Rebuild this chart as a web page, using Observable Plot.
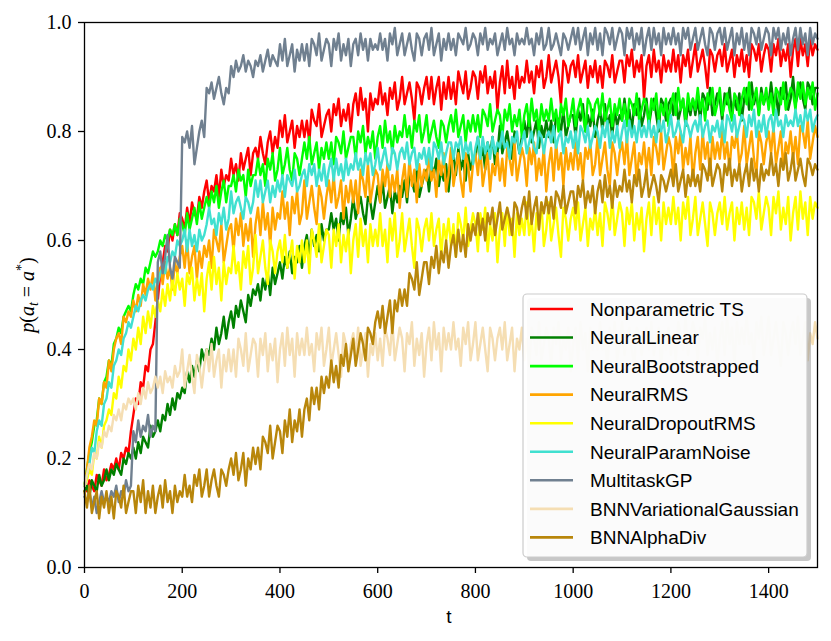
<!DOCTYPE html>
<html><head><meta charset="utf-8">
<script src="https://cdn.jsdelivr.net/npm/d3@7"></script>
<script src="https://cdn.jsdelivr.net/npm/@observablehq/plot@0.6"></script>
<style>body{margin:0;background:#fff}#chart svg{display:block}</style>
</head><body><div id="chart"></div>
<script>
// time steps (every 5 steps from 0 to 1500)
const tSteps = d3.range(0, 1501, 5);
const xTicks = [0, 200, 400, 600, 800, 1000, 1200, 1400];
const yTicks = [0, 0.2, 0.4, 0.6, 0.8, 1.0];

const seriesNames = ["Nonparametric TS","NeuralLinear","NeuralBootstrapped","NeuralRMS","NeuralDropoutRMS","NeuralParamNoise","MultitaskGP","BNNVariationalGaussian","BNNAlphaDiv"];
const seriesColors = ["#ff0000","#008000","#00ff00","#ffa500","#ffff00","#40e0d0","#708090","#f5deb3","#b8860b"];

const nonparametricTS = [
0.15,0.14,0.16,0.15,0.14,0.17,0.16,0.15,0.18,0.16, 0.17,0.19,0.18,0.20,0.18,0.21,0.20,0.22,0.21,0.25,
0.28,0.31,0.30,0.34,0.33,0.37,0.36,0.40,0.41,0.45, 0.49,0.54,0.56,0.59,0.58,0.62,0.60,0.63,0.61,0.65,
0.64,0.62,0.66,0.63,0.67,0.65,0.64,0.68,0.66,0.69, 0.71,0.67,0.70,0.69,0.72,0.68,0.73,0.70,0.72,0.71,
0.75,0.72,0.74,0.71,0.76,0.73,0.75,0.77,0.72,0.76, 0.77,0.75,0.79,0.76,0.74,0.78,0.80,0.76,0.79,0.77,
0.82,0.79,0.83,0.78,0.80,0.82,0.77,0.81,0.79,0.82, 0.79,0.82,0.78,0.84,0.82,0.81,0.85,0.79,0.81,0.83,
0.84,0.80,0.85,0.83,0.86,0.81,0.84,0.82,0.85,0.80, 0.85,0.87,0.83,0.88,0.84,0.86,0.80,0.87,0.84,0.86,
0.85,0.89,0.85,0.87,0.83,0.88,0.86,0.89,0.84,0.86, 0.90,0.85,0.87,0.89,0.86,0.82,0.89,0.88,0.85,0.88,
0.90,0.86,0.90,0.85,0.88,0.90,0.84,0.89,0.86,0.90, 0.86,0.89,0.85,0.91,0.89,0.87,0.91,0.86,0.88,0.91,
0.90,0.86,0.91,0.89,0.92,0.87,0.90,0.88,0.91,0.84, 0.89,0.92,0.87,0.93,0.88,0.90,0.86,0.92,0.88,0.90,
0.89,0.93,0.89,0.91,0.87,0.92,0.90,0.93,0.88,0.90, 0.94,0.89,0.91,0.93,0.90,0.85,0.93,0.92,0.89,0.92,
0.93,0.90,0.94,0.89,0.91,0.93,0.88,0.92,0.90,0.93, 0.89,0.92,0.88,0.93,0.92,0.90,0.94,0.89,0.91,0.93,
0.93,0.89,0.94,0.92,0.95,0.90,0.93,0.91,0.94,0.86, 0.92,0.94,0.90,0.95,0.91,0.93,0.89,0.94,0.91,0.93,
0.91,0.95,0.91,0.94,0.89,0.94,0.92,0.95,0.90,0.93, 0.96,0.91,0.93,0.95,0.92,0.88,0.95,0.94,0.91,0.94,
0.95,0.92,0.96,0.91,0.93,0.95,0.90,0.94,0.92,0.95, 0.91,0.94,0.90,0.96,0.95,0.93,0.96,0.91,0.94,0.96,
0.95,0.91,0.96,0.94,0.97,0.92,0.95,0.93,0.96,0.90, 0.95,0.97,0.92,0.97,0.94,0.96,0.92,0.97,0.94,0.96,
0.95];

const neuralLinear = [
0.14,0.15,0.13,0.16,0.15,0.14,0.17,0.15,0.16,0.18, 0.16,0.18,0.17,0.19,0.18,0.17,0.20,0.19,0.21,0.20,
0.22,0.20,0.23,0.21,0.24,0.23,0.22,0.26,0.24,0.25, 0.27,0.25,0.28,0.27,0.30,0.28,0.31,0.29,0.32,0.31,
0.33,0.32,0.36,0.34,0.37,0.35,0.38,0.36,0.40,0.38, 0.40,0.39,0.42,0.40,0.44,0.41,0.43,0.46,0.42,0.45,
0.47,0.44,0.48,0.46,0.49,0.47,0.45,0.50,0.48,0.51, 0.50,0.52,0.49,0.53,0.51,0.54,0.50,0.55,0.52,0.54,
0.56,0.53,0.57,0.55,0.58,0.54,0.57,0.56,0.59,0.55, 0.59,0.61,0.57,0.62,0.59,0.61,0.58,0.63,0.60,0.62,
0.62,0.65,0.62,0.64,0.60,0.65,0.63,0.66,0.61,0.64, 0.68,0.64,0.66,0.68,0.65,0.63,0.68,0.67,0.64,0.67,
0.70,0.67,0.71,0.66,0.68,0.70,0.65,0.69,0.67,0.70, 0.68,0.71,0.67,0.72,0.71,0.69,0.73,0.68,0.70,0.72,
0.73,0.69,0.74,0.72,0.75,0.70,0.73,0.71,0.74,0.69, 0.74,0.76,0.72,0.77,0.73,0.75,0.71,0.76,0.73,0.75,
0.75,0.79,0.75,0.77,0.73,0.78,0.76,0.79,0.74,0.76, 0.81,0.76,0.78,0.80,0.77,0.75,0.80,0.79,0.76,0.79,
0.82,0.79,0.83,0.78,0.80,0.82,0.77,0.81,0.79,0.82, 0.79,0.82,0.78,0.83,0.82,0.80,0.84,0.79,0.81,0.83,
0.83,0.79,0.84,0.82,0.85,0.80,0.83,0.81,0.84,0.79, 0.82,0.84,0.80,0.85,0.81,0.83,0.79,0.84,0.81,0.83,
0.82,0.86,0.82,0.84,0.80,0.85,0.83,0.86,0.81,0.83, 0.86,0.81,0.84,0.86,0.83,0.80,0.86,0.85,0.82,0.85,
0.86,0.83,0.87,0.82,0.84,0.86,0.81,0.85,0.83,0.86, 0.83,0.86,0.82,0.87,0.86,0.84,0.88,0.83,0.85,0.87,
0.86,0.82,0.87,0.85,0.88,0.83,0.86,0.84,0.87,0.82, 0.86,0.88,0.84,0.89,0.85,0.87,0.83,0.88,0.85,0.87,
0.85,0.89,0.85,0.87,0.83,0.88,0.86,0.89,0.84,0.86, 0.90,0.85,0.87,0.89,0.86,0.84,0.89,0.88,0.85,0.88,
0.88];

const neuralBootstrapped = [
0.15,0.18,0.21,0.23,0.26,0.27,0.31,0.30,0.34,0.35, 0.38,0.37,0.41,0.42,0.44,0.43,0.46,0.47,0.48,0.47,
0.50,0.52,0.51,0.53,0.52,0.55,0.54,0.56,0.58,0.57, 0.58,0.60,0.59,0.61,0.60,0.62,0.61,0.63,0.61,0.64,
0.63,0.61,0.65,0.62,0.64,0.66,0.63,0.67,0.64,0.66, 0.68,0.66,0.69,0.67,0.70,0.66,0.69,0.71,0.67,0.70,
0.70,0.72,0.69,0.73,0.71,0.72,0.68,0.73,0.70,0.72, 0.72,0.75,0.72,0.74,0.70,0.75,0.73,0.76,0.71,0.73,
0.77,0.72,0.74,0.77,0.73,0.71,0.76,0.75,0.72,0.75, 0.78,0.75,0.79,0.74,0.76,0.78,0.73,0.77,0.75,0.78,
0.75,0.78,0.74,0.79,0.78,0.76,0.80,0.75,0.77,0.79, 0.79,0.75,0.80,0.78,0.81,0.76,0.79,0.77,0.80,0.75,
0.79,0.81,0.77,0.82,0.78,0.80,0.76,0.81,0.78,0.80, 0.79,0.83,0.79,0.81,0.77,0.82,0.80,0.83,0.78,0.80,
0.83,0.78,0.80,0.82,0.79,0.77,0.82,0.81,0.78,0.81, 0.83,0.80,0.84,0.79,0.81,0.83,0.78,0.82,0.80,0.83,
0.80,0.83,0.79,0.84,0.83,0.81,0.85,0.80,0.82,0.84, 0.83,0.79,0.84,0.82,0.85,0.80,0.83,0.81,0.84,0.79,
0.83,0.85,0.81,0.86,0.82,0.84,0.80,0.85,0.82,0.84, 0.82,0.86,0.82,0.84,0.80,0.85,0.83,0.86,0.81,0.83,
0.86,0.81,0.84,0.86,0.83,0.80,0.86,0.85,0.82,0.85, 0.86,0.83,0.87,0.82,0.84,0.86,0.81,0.85,0.83,0.86,
0.82,0.85,0.81,0.86,0.85,0.83,0.87,0.82,0.84,0.86, 0.85,0.81,0.86,0.84,0.87,0.82,0.85,0.83,0.86,0.81,
0.85,0.87,0.83,0.88,0.84,0.86,0.82,0.87,0.84,0.86, 0.84,0.88,0.84,0.86,0.82,0.87,0.85,0.88,0.83,0.85,
0.88,0.83,0.85,0.87,0.84,0.82,0.87,0.86,0.83,0.86, 0.88,0.85,0.89,0.84,0.86,0.88,0.83,0.87,0.85,0.88,
0.84,0.87,0.83,0.88,0.87,0.85,0.89,0.84,0.86,0.88, 0.87,0.84,0.89,0.86,0.89,0.85,0.88,0.86,0.89,0.84,
0.87];

const neuralRMS = [
0.15,0.18,0.22,0.24,0.27,0.26,0.31,0.30,0.34,0.33, 0.38,0.36,0.40,0.42,0.43,0.41,0.46,0.45,0.47,0.46,
0.49,0.47,0.50,0.48,0.52,0.50,0.53,0.51,0.54,0.49, 0.53,0.55,0.52,0.56,0.53,0.55,0.51,0.56,0.54,0.57,
0.59,0.55,0.60,0.54,0.57,0.59,0.53,0.58,0.55,0.59, 0.57,0.60,0.55,0.62,0.60,0.58,0.63,0.56,0.59,0.62,
0.63,0.58,0.64,0.61,0.65,0.59,0.63,0.60,0.64,0.57, 0.63,0.66,0.61,0.67,0.62,0.65,0.59,0.66,0.62,0.65,
0.64,0.69,0.64,0.67,0.61,0.68,0.65,0.69,0.63,0.65, 0.71,0.64,0.67,0.70,0.66,0.63,0.70,0.68,0.64,0.68,
0.71,0.67,0.72,0.66,0.68,0.71,0.64,0.70,0.67,0.71, 0.67,0.71,0.65,0.73,0.71,0.68,0.74,0.67,0.70,0.73,
0.72,0.67,0.73,0.70,0.74,0.68,0.72,0.69,0.73,0.66, 0.71,0.74,0.68,0.75,0.70,0.73,0.67,0.74,0.70,0.73,
0.71,0.76,0.71,0.73,0.68,0.75,0.72,0.76,0.69,0.72, 0.77,0.70,0.73,0.76,0.71,0.68,0.76,0.74,0.69,0.74,
0.76,0.72,0.77,0.70,0.73,0.76,0.69,0.74,0.72,0.76, 0.71,0.75,0.70,0.77,0.75,0.72,0.78,0.71,0.74,0.77,
0.75,0.70,0.77,0.74,0.78,0.71,0.75,0.72,0.77,0.69, 0.74,0.77,0.71,0.78,0.73,0.76,0.70,0.77,0.73,0.76,
0.73,0.78,0.73,0.76,0.71,0.77,0.75,0.78,0.72,0.74, 0.79,0.72,0.75,0.78,0.73,0.70,0.78,0.76,0.72,0.76,
0.78,0.74,0.79,0.72,0.75,0.78,0.71,0.76,0.74,0.78, 0.73,0.77,0.72,0.79,0.77,0.74,0.80,0.73,0.76,0.79,
0.77,0.72,0.79,0.76,0.80,0.73,0.77,0.74,0.79,0.71, 0.76,0.79,0.73,0.80,0.75,0.78,0.72,0.79,0.75,0.78,
0.75,0.80,0.75,0.78,0.73,0.79,0.77,0.80,0.74,0.76, 0.81,0.74,0.77,0.80,0.75,0.72,0.80,0.78,0.74,0.78,
0.80,0.76,0.81,0.74,0.77,0.80,0.73,0.78,0.76,0.80, 0.75,0.79,0.74,0.81,0.80,0.77,0.82,0.75,0.78,0.81,
0.79];

const neuralDropoutRMS = [
0.15,0.16,0.18,0.17,0.21,0.20,0.24,0.22,0.26,0.27, 0.29,0.28,0.32,0.31,0.35,0.33,0.37,0.36,0.40,0.38,
0.42,0.40,0.44,0.41,0.46,0.43,0.47,0.44,0.48,0.46, 0.49,0.47,0.51,0.48,0.52,0.49,0.53,0.50,0.54,0.51,
0.53,0.48,0.54,0.52,0.55,0.49,0.53,0.50,0.54,0.47, 0.53,0.56,0.51,0.57,0.52,0.55,0.49,0.56,0.52,0.55,
0.54,0.59,0.54,0.56,0.51,0.58,0.55,0.59,0.52,0.55, 0.61,0.54,0.57,0.60,0.55,0.52,0.60,0.58,0.54,0.58,
0.60,0.56,0.61,0.55,0.57,0.60,0.53,0.59,0.56,0.60, 0.56,0.60,0.54,0.62,0.60,0.57,0.63,0.56,0.59,0.62,
0.61,0.55,0.62,0.59,0.63,0.56,0.61,0.58,0.62,0.54, 0.60,0.63,0.57,0.64,0.59,0.62,0.56,0.63,0.59,0.62,
0.59,0.65,0.59,0.62,0.56,0.64,0.60,0.65,0.57,0.60, 0.65,0.58,0.61,0.64,0.59,0.55,0.64,0.62,0.58,0.62,
0.64,0.60,0.65,0.59,0.62,0.64,0.57,0.63,0.60,0.64, 0.59,0.63,0.57,0.65,0.63,0.60,0.66,0.59,0.62,0.65,
0.63,0.58,0.65,0.62,0.66,0.58,0.63,0.60,0.65,0.56, 0.62,0.65,0.59,0.66,0.61,0.64,0.57,0.65,0.61,0.64,
0.61,0.67,0.61,0.64,0.58,0.65,0.62,0.67,0.59,0.62, 0.67,0.60,0.63,0.66,0.61,0.57,0.66,0.64,0.60,0.64,
0.66,0.62,0.67,0.60,0.63,0.66,0.59,0.64,0.62,0.66, 0.61,0.65,0.59,0.67,0.65,0.62,0.68,0.61,0.64,0.67,
0.65,0.59,0.66,0.63,0.67,0.60,0.65,0.62,0.66,0.58, 0.64,0.67,0.61,0.68,0.63,0.66,0.60,0.67,0.63,0.66,
0.63,0.68,0.63,0.66,0.60,0.67,0.64,0.68,0.61,0.64, 0.68,0.61,0.64,0.67,0.63,0.59,0.67,0.65,0.61,0.65,
0.67,0.63,0.68,0.62,0.65,0.67,0.60,0.66,0.63,0.67, 0.62,0.66,0.61,0.68,0.67,0.64,0.69,0.62,0.65,0.68,
0.66,0.61,0.68,0.65,0.69,0.62,0.66,0.63,0.68,0.60, 0.65,0.68,0.62,0.69,0.64,0.67,0.61,0.68,0.64,0.67,
0.66];

const neuralParamNoise = [
0.15,0.17,0.19,0.22,0.21,0.25,0.27,0.26,0.30,0.31, 0.34,0.33,0.37,0.38,0.40,0.39,0.42,0.43,0.45,0.44,
0.46,0.48,0.47,0.49,0.50,0.49,0.51,0.52,0.51,0.53, 0.52,0.54,0.55,0.54,0.57,0.56,0.58,0.57,0.60,0.59,
0.60,0.62,0.58,0.62,0.59,0.61,0.58,0.62,0.60,0.61, 0.63,0.66,0.63,0.64,0.61,0.65,0.63,0.66,0.62,0.64,
0.69,0.65,0.67,0.68,0.66,0.64,0.68,0.67,0.65,0.67, 0.71,0.68,0.71,0.67,0.69,0.71,0.67,0.70,0.68,0.71,
0.69,0.72,0.68,0.72,0.71,0.70,0.73,0.69,0.70,0.72, 0.73,0.70,0.74,0.72,0.74,0.70,0.73,0.71,0.74,0.70,
0.73,0.75,0.71,0.75,0.72,0.74,0.71,0.75,0.72,0.74, 0.73,0.76,0.73,0.75,0.72,0.76,0.74,0.76,0.72,0.74,
0.77,0.73,0.75,0.77,0.74,0.73,0.77,0.76,0.73,0.76, 0.77,0.75,0.78,0.74,0.76,0.77,0.73,0.76,0.75,0.77,
0.74,0.77,0.73,0.78,0.77,0.75,0.78,0.74,0.76,0.78, 0.78,0.75,0.78,0.77,0.79,0.75,0.78,0.76,0.78,0.74,
0.77,0.79,0.75,0.79,0.76,0.78,0.75,0.79,0.76,0.78, 0.77,0.80,0.77,0.78,0.75,0.79,0.78,0.80,0.76,0.78,
0.80,0.76,0.78,0.80,0.77,0.76,0.80,0.79,0.76,0.79, 0.80,0.78,0.81,0.77,0.79,0.80,0.76,0.79,0.78,0.80,
0.77,0.80,0.76,0.81,0.80,0.78,0.81,0.77,0.79,0.81, 0.80,0.77,0.81,0.79,0.82,0.77,0.80,0.78,0.81,0.77,
0.80,0.82,0.78,0.82,0.79,0.81,0.78,0.82,0.79,0.81, 0.79,0.82,0.79,0.81,0.78,0.82,0.80,0.82,0.78,0.80,
0.83,0.79,0.80,0.82,0.80,0.78,0.82,0.81,0.79,0.81, 0.82,0.80,0.83,0.79,0.81,0.82,0.78,0.81,0.80,0.82,
0.79,0.82,0.78,0.83,0.82,0.80,0.83,0.79,0.81,0.83, 0.82,0.79,0.83,0.81,0.84,0.79,0.82,0.80,0.83,0.79,
0.82,0.83,0.80,0.84,0.81,0.82,0.79,0.83,0.81,0.82, 0.81,0.84,0.81,0.83,0.80,0.84,0.82,0.84,0.80,0.82,
0.83];

const multitaskGP = [
0.13,0.12,0.14,0.11,0.13,0.10,0.12,0.14,0.12,0.13, 0.12,0.14,0.13,0.15,0.12,0.14,0.13,0.16,0.14,0.15,
0.25,0.23,0.27,0.24,0.26,0.25,0.28,0.24,0.26,0.25, 0.56,0.58,0.54,0.57,0.61,0.55,0.53,0.57,0.56,0.55,
0.79,0.78,0.80,0.77,0.81,0.74,0.77,0.80,0.82,0.79, 0.88,0.87,0.89,0.86,0.88,0.90,0.87,0.85,0.88,0.87,
0.92,0.90,0.93,0.91,0.92,0.94,0.91,0.93,0.92,0.90, 0.93,0.92,0.94,0.91,0.93,0.95,0.92,0.94,0.93,0.92,
0.96,0.93,0.97,0.92,0.94,0.96,0.91,0.95,0.93,0.96, 0.93,0.96,0.92,0.97,0.96,0.94,0.98,0.93,0.95,0.97,
0.96,0.92,0.97,0.95,0.98,0.93,0.96,0.94,0.97,0.92, 0.96,0.97,0.94,0.98,0.95,0.97,0.93,0.97,0.95,0.96,
0.95,0.98,0.95,0.97,0.93,0.98,0.96,0.99,0.94,0.96, 0.98,0.94,0.96,0.98,0.95,0.93,0.98,0.97,0.94,0.97,
0.98,0.95,0.99,0.94,0.96,0.98,0.93,0.97,0.95,0.98, 0.95,0.97,0.94,0.98,0.97,0.96,0.99,0.95,0.96,0.98,
0.97,0.94,0.98,0.96,0.99,0.95,0.97,0.96,0.98,0.94, 0.96,0.98,0.95,0.99,0.96,0.97,0.94,0.98,0.96,0.97,
0.96,0.99,0.96,0.97,0.94,0.98,0.96,0.99,0.95,0.96, 0.99,0.95,0.96,0.98,0.96,0.94,0.98,0.97,0.95,0.97,
0.99,0.96,0.99,0.95,0.97,0.99,0.94,0.98,0.96,0.99, 0.95,0.98,0.94,0.99,0.98,0.96,0.99,0.95,0.97,0.99,
0.98,0.94,0.99,0.97,0.99,0.95,0.98,0.96,0.99,0.94, 0.97,0.99,0.95,0.99,0.96,0.98,0.94,0.99,0.96,0.98,
0.96,0.99,0.96,0.98,0.94,0.99,0.97,0.99,0.95,0.97, 0.99,0.95,0.97,0.99,0.96,0.94,0.99,0.98,0.95,0.98,
0.99,0.96,0.99,0.95,0.97,0.99,0.94,0.98,0.96,0.99, 0.95,0.98,0.94,0.99,0.98,0.96,0.99,0.95,0.97,0.99,
0.98,0.94,0.99,0.97,0.99,0.95,0.98,0.96,0.99,0.94, 0.97,0.99,0.95,0.99,0.96,0.98,0.94,0.99,0.96,0.98,
0.97];

const bnnVariationalGaussian = [
0.15,0.17,0.19,0.18,0.21,0.20,0.23,0.22,0.25,0.24, 0.26,0.25,0.28,0.27,0.29,0.27,0.30,0.29,0.31,0.30,
0.31,0.29,0.32,0.30,0.33,0.31,0.34,0.32,0.33,0.35, 0.33,0.35,0.32,0.36,0.34,0.35,0.33,0.37,0.35,0.36,
0.40,0.33,0.36,0.39,0.35,0.32,0.39,0.37,0.33,0.37, 0.40,0.36,0.41,0.35,0.38,0.40,0.33,0.39,0.36,0.40,
0.36,0.40,0.35,0.42,0.40,0.37,0.43,0.36,0.39,0.42, 0.41,0.35,0.42,0.39,0.43,0.36,0.41,0.38,0.42,0.34,
0.40,0.43,0.37,0.44,0.39,0.42,0.35,0.43,0.39,0.42, 0.39,0.44,0.39,0.41,0.36,0.43,0.40,0.44,0.37,0.40,
0.44,0.37,0.40,0.43,0.39,0.35,0.43,0.41,0.37,0.41, 0.43,0.39,0.44,0.37,0.40,0.43,0.35,0.41,0.39,0.43,
0.38,0.42,0.37,0.44,0.42,0.39,0.45,0.38,0.41,0.44, 0.42,0.36,0.43,0.41,0.45,0.37,0.42,0.39,0.43,0.35,
0.41,0.44,0.38,0.45,0.40,0.43,0.36,0.44,0.40,0.43, 0.40,0.45,0.40,0.42,0.37,0.44,0.41,0.45,0.38,0.41,
0.45,0.38,0.41,0.44,0.40,0.36,0.44,0.42,0.38,0.42, 0.44,0.40,0.45,0.38,0.41,0.44,0.36,0.42,0.40,0.44,
0.38,0.42,0.37,0.44,0.42,0.39,0.45,0.38,0.41,0.44, 0.42,0.37,0.44,0.41,0.45,0.38,0.42,0.40,0.44,0.36,
0.41,0.44,0.38,0.45,0.40,0.43,0.36,0.44,0.40,0.43, 0.40,0.45,0.40,0.42,0.37,0.44,0.41,0.45,0.38,0.41,
0.45,0.39,0.42,0.44,0.40,0.37,0.44,0.43,0.39,0.42, 0.44,0.40,0.45,0.39,0.42,0.44,0.37,0.43,0.40,0.44,
0.39,0.43,0.38,0.45,0.43,0.40,0.46,0.39,0.42,0.45, 0.43,0.38,0.44,0.42,0.46,0.39,0.43,0.40,0.44,0.37,
0.42,0.45,0.39,0.46,0.41,0.44,0.37,0.45,0.41,0.44, 0.41,0.46,0.41,0.43,0.38,0.45,0.42,0.46,0.39,0.42,
0.46,0.39,0.42,0.45,0.41,0.37,0.45,0.43,0.39,0.43, 0.45,0.41,0.46,0.39,0.42,0.45,0.38,0.43,0.41,0.45,
0.42];

const bnnAlphaDiv = [
0.14,0.11,0.15,0.10,0.12,0.14,0.09,0.13,0.11,0.14, 0.10,0.13,0.09,0.14,0.13,0.11,0.15,0.10,0.12,0.14,
0.14,0.10,0.15,0.12,0.16,0.10,0.14,0.11,0.15,0.10, 0.13,0.15,0.11,0.16,0.12,0.14,0.10,0.15,0.12,0.14,
0.13,0.17,0.13,0.15,0.12,0.17,0.15,0.18,0.13,0.15, 0.18,0.13,0.16,0.18,0.15,0.13,0.18,0.17,0.15,0.18,
0.20,0.17,0.21,0.16,0.18,0.21,0.15,0.20,0.18,0.22, 0.19,0.22,0.18,0.24,0.23,0.21,0.26,0.20,0.23,0.26,
0.25,0.21,0.27,0.24,0.29,0.23,0.27,0.25,0.29,0.24, 0.29,0.31,0.27,0.33,0.30,0.33,0.29,0.35,0.32,0.35,
0.33,0.38,0.34,0.37,0.33,0.39,0.37,0.41,0.36,0.39, 0.42,0.37,0.40,0.43,0.41,0.38,0.44,0.43,0.41,0.45,
0.47,0.44,0.48,0.43,0.46,0.49,0.43,0.49,0.47,0.51, 0.48,0.51,0.48,0.54,0.53,0.51,0.56,0.50,0.53,0.56,
0.56,0.52,0.57,0.55,0.59,0.54,0.58,0.56,0.60,0.55, 0.59,0.61,0.57,0.62,0.58,0.61,0.57,0.63,0.60,0.63,
0.61,0.65,0.61,0.64,0.60,0.65,0.63,0.66,0.61,0.64, 0.67,0.62,0.64,0.66,0.64,0.61,0.67,0.66,0.63,0.66,
0.68,0.64,0.69,0.63,0.66,0.68,0.62,0.67,0.65,0.68, 0.65,0.68,0.64,0.69,0.68,0.66,0.70,0.65,0.67,0.69,
0.69,0.65,0.70,0.68,0.71,0.66,0.69,0.67,0.70,0.65, 0.69,0.71,0.67,0.72,0.68,0.70,0.66,0.71,0.68,0.70,
0.69,0.73,0.69,0.71,0.67,0.72,0.70,0.73,0.68,0.70, 0.73,0.68,0.70,0.72,0.70,0.67,0.72,0.71,0.69,0.71,
0.73,0.70,0.74,0.69,0.71,0.73,0.68,0.72,0.70,0.73, 0.70,0.72,0.69,0.74,0.73,0.71,0.75,0.70,0.72,0.74,
0.73,0.69,0.74,0.72,0.75,0.70,0.73,0.71,0.74,0.69, 0.72,0.74,0.70,0.75,0.71,0.73,0.69,0.74,0.71,0.73,
0.72,0.76,0.72,0.74,0.70,0.75,0.73,0.76,0.71,0.73, 0.76,0.71,0.73,0.75,0.72,0.70,0.75,0.74,0.72,0.74,
0.73];

const seriesValues = [nonparametricTS, neuralLinear, neuralBootstrapped, neuralRMS, neuralDropoutRMS, neuralParamNoise, multitaskGP, bnnVariationalGaussian, bnnAlphaDiv];

const tables = seriesValues.map(vals => vals.map((v, i) => ({t: tSteps[i], v})));

const SERIF = "Liberation Serif";
const SANS = "Liberation Sans";

const lineMarks = tables.map((tab, k) => Plot.line(tab, {
  x: "t", y: "v", stroke: seriesColors[k], strokeWidth: 2.4, strokeLinejoin: "round"
}));

const plot = Plot.plot({
  width: 831, height: 641,
  marginLeft: 84, marginRight: 14, marginTop: 22, marginBottom: 74,
  style: {fontFamily: SERIF, fontSize: "20px", color: "#000", background: "#fff"},
  x: {domain: [0, 1500]},
  y: {domain: [0, 1]},
  marks: [
    ...lineMarks,
    Plot.frame({stroke: "#000", strokeWidth: 1.3}),
    Plot.axisX(xTicks, {tickSize: 6, tickPadding: 10, tickFormat: d => String(d), label: null,
      fontFamily: SERIF, fontSize: 20, strokeWidth: 1.3}),
    Plot.axisY(yTicks, {tickSize: 6, tickPadding: 7, tickFormat: d => d.toFixed(1), label: null,
      fontFamily: SERIF, fontSize: 20, strokeWidth: 1.3})
  ]
});
document.getElementById("chart").appendChild(plot);

const svg = d3.select(plot);
svg.selectAll("text").attr("font-family", SERIF).style("font-family", SERIF).style("font-variant", "normal");

// axis labels
svg.append("text")
  .attr("x", 449).attr("y", 623)
  .attr("text-anchor", "middle")
  .attr("font-family", SANS).style("font-family", SANS).style("font-size", "19px")
  .text("t");

const yl = svg.append("text")
  .attr("transform", "translate(34,295) rotate(-90)")
  .attr("text-anchor", "middle")
  .attr("font-family", SERIF).style("font-family", SERIF).style("font-size", "20px");
yl.append("tspan").style("font-style", "italic").text("p");
yl.append("tspan").text("(");
yl.append("tspan").style("font-style", "italic").text("a");
yl.append("tspan").style("font-style", "italic").style("font-size", "14px").attr("dy", 4).text("t");
yl.append("tspan").attr("dy", -4).text(" = ");
yl.append("tspan").style("font-style", "italic").text("a");
yl.append("tspan").style("font-size", "14px").attr("dy", -8).text("*");
yl.append("tspan").attr("dy", 8).text(")");

// legend
const lg = svg.append("g").attr("text-anchor", "start");
lg.append("rect").attr("x", 527).attr("y", 298).attr("width", 284).attr("height", 263)
  .attr("rx", 4).attr("fill", "#999").attr("fill-opacity", 0.55);
lg.append("rect").attr("x", 523).attr("y", 294).attr("width", 284).attr("height", 263)
  .attr("rx", 4).attr("fill", "#fff").attr("fill-opacity", 0.92).attr("stroke", "#cccccc").attr("stroke-width", 1.2);
seriesNames.forEach((name, i) => {
  const y = 309 + i * 28.55;
  lg.append("line").attr("x1", 530).attr("x2", 573).attr("y1", y).attr("y2", y)
    .attr("stroke", seriesColors[i]).attr("stroke-width", 2.6);
  lg.append("text").attr("x", 590).attr("y", y).attr("dy", "0.36em")
    .attr("text-anchor", "start")
    .attr("font-family", SANS).style("font-family", SANS).style("font-size", "19px")
    .text(name);
});
</script>
</body></html>
